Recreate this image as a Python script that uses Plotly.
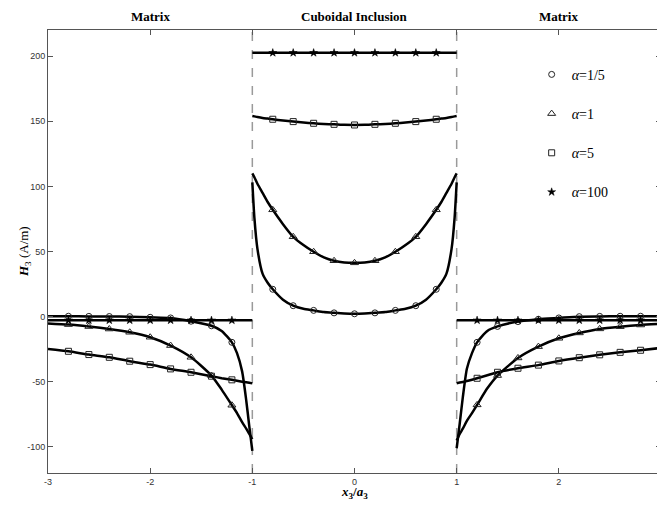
import plotly.graph_objects as go

# ---------------- data ----------------
alphas = ["1/5", "1", "5", "100"]

x_left = [-3.0, -2.8, -2.6, -2.4, -2.2, -2.0, -1.8, -1.6, -1.4, -1.3, -1.2, -1.15, -1.1, -1.06, -1.03, -1.0]
x_incl = [-1.0, -0.98, -0.95, -0.9, -0.85, -0.8, -0.7, -0.6, -0.5, -0.4, -0.3, -0.2, -0.1, 0.0,
          0.1, 0.2, 0.3, 0.4, 0.5, 0.6, 0.7, 0.8, 0.85, 0.9, 0.95, 0.98, 1.0]
x_right = [1.0, 1.03, 1.06, 1.1, 1.15, 1.2, 1.3, 1.4, 1.6, 1.8, 2.0, 2.2, 2.4, 2.6, 2.8, 3.0]

# alpha = 1/5
h_left_a1 = [0.3, 0.3, 0.2, 0.1, 0.0, -0.5, -1.0, -3.5, -7.0, -11.0, -19.7, -28.0, -42.0, -64.0, -84.0, -103.0]
h_incl_a1 = [103, 76, 52, 33, 26, 21, 13, 8.4, 6.0, 4.8, 3.5, 2.9, 2.4, 2.2,
             2.4, 2.9, 3.5, 4.8, 6.0, 8.4, 13, 21, 26, 33, 52, 76, 103]
h_right_a1 = [-101.0, -82.0, -62.0, -40.0, -28.0, -19.7, -11.0, -7.5, -3.8, -2.0, -1.0, 0.0, 0.2, 0.3, 0.3, 0.3]

# alpha = 1
h_left_a2 = [-5.2, -6.1, -7.6, -9.5, -12.0, -15.8, -22.2, -31.2, -45.2, -56.0, -68.0, -74.0, -81.0, -86.0, -90.0, -94.0]
h_incl_a2 = [110, 107, 102, 95, 88, 82, 71, 61.3, 55, 49.8, 45.5, 42.9, 41.6, 41.3,
             41.6, 42.9, 45.5, 49.8, 55, 61.3, 71, 82, 88, 95, 102, 107, 110]
h_right_a2 = [-95.0, -90.0, -86.0, -80.0, -74.0, -67.7, -55.0, -45.2, -31.7, -23.0, -16.6, -12.5, -9.4, -7.7, -6.4, -5.5]

# alpha = 5
h_left_a3 = [-24.8, -26.6, -29.1, -31.2, -34.2, -36.8, -40.1, -42.7, -45.7, -47.2, -48.5, -49.2, -49.9, -50.4, -50.8, -51.2]
h_incl_a3 = [154, 153.7, 153.2, 152.5, 152, 151.5, 150.5, 149.7, 149, 148.4, 147.9, 147.6, 147.2, 147.1,
             147.2, 147.6, 147.9, 148.4, 149, 149.7, 150.5, 151.5, 152, 152.5, 153.2, 153.7, 154]
h_right_a3 = [-51.1, -50.6, -50.1, -49.4, -48.4, -47.3, -45.0, -42.7, -39.6, -37.2, -34.0, -31.5, -29.3, -27.4, -25.8, -24.0]

# alpha = 100
h_left_a4 = [-2.8] * 16
h_incl_a4 = [202.5] * 27
h_right_a4 = [-2.8] * 16

marker_x = [-2.8, -2.6, -2.4, -2.2, -2.0, -1.8, -1.6, -1.4, -1.2,
            -0.8, -0.6, -0.4, -0.2, 0.0, 0.2, 0.4, 0.6, 0.8,
            1.2, 1.4, 1.6, 1.8, 2.0, 2.2, 2.4, 2.6, 2.8]

region_names = ["Matrix", "Cuboidal Inclusion", "Matrix"]
region_centers = [-2, 0, 2]
boundaries = [-1, 1]

x_ticks = [-3, -2, -1, 0, 1, 2, 3]
x_ticktext = ["-3", "-2", "-1", "0", "1", "2", "3"]
y_ticks = [-100, -50, 0, 50, 100, 150, 200]
y_ticktext = ["-100", "-50", "0", "50", "100", "150", "200"]

# ---------------- styles ----------------
series = [
    (h_left_a1, h_incl_a1, h_right_a1, "circle-open", 6),
    (h_left_a2, h_incl_a2, h_right_a2, "triangle-up-open", 7),
    (h_left_a3, h_incl_a3, h_right_a3, "square-open", 6),
    (h_left_a4, h_incl_a4, h_right_a4, "star", 6),
]

fig = go.Figure()

for b in boundaries:
    fig.add_shape(type="line", x0=b, x1=b, y0=0, y1=1, xref="x", yref="paper",
                  line=dict(color="#9a9a9a", width=1.5, dash="dash"), layer="below")

for i, (hl, hi, hr, sym, sz) in enumerate(series):
    for xs, hs in ((x_left, hl), (x_incl, hi), (x_right, hr)):
        fig.add_trace(go.Scatter(x=xs, y=hs, mode="lines", showlegend=False,
                                 line=dict(color="black", width=2.5, shape="spline", smoothing=0.6),
                                 hoverinfo="skip"))
    lookup = {}
    for xs, hs in ((x_left, hl), (x_incl, hi), (x_right, hr)):
        for a, b in zip(xs, hs):
            lookup.setdefault(round(a, 2), b)
    mx = marker_x
    my = [lookup[round(v, 2)] for v in mx]
    if sym == "star":
        mk = dict(symbol=sym, size=sz, color="black", line=dict(color="black", width=0.5))
    else:
        mk = dict(symbol=sym, size=sz, color="#222", line=dict(color="#222", width=1))
    fig.add_trace(go.Scatter(x=mx, y=my, mode="markers", marker=mk,
                             name="<i>α</i>=" + alphas[i], legendgroup="g%d" % i))

for name, c in zip(region_names, region_centers):
    fig.add_annotation(x=c, y=1, xref="x", yref="paper", yshift=14, yanchor="middle",
                       text="<b>%s</b>" % name, showarrow=False,
                       font=dict(family="Liberation Serif", size=13, color="black"))

fig.add_annotation(x=0, y=0.5, xref="paper", yref="paper", xshift=-34, textangle=-90,
                   text="<b><i>H</i></b><sub>3</sub> (A/m)", showarrow=False,
                   font=dict(family="Liberation Serif", size=13, color="black"))
fig.add_annotation(x=0.5, y=0, xref="paper", yref="paper", yshift=-19, yanchor="middle",
                   text="<b><i>x</i><sub>3</sub>/<i>a</i><sub>3</sub></b>", showarrow=False,
                   font=dict(family="Liberation Serif", size=13, color="black"))

axis_common = dict(showline=True, linecolor="#555", linewidth=1, mirror="ticks",
                   ticks="inside", ticklen=5, tickcolor="#555", showgrid=False, zeroline=False,
                   tickfont=dict(family="Liberation Sans", size=9, color="#333"))

# the page adds an 8px body margin, so the figure is sized to fit the 665x508 window
fig.update_layout(
    width=657, height=500,
    margin=dict(l=40, r=1, t=22, b=35),
    plot_bgcolor="white", paper_bgcolor="white",
    xaxis=dict(range=[-3, 3], tickvals=x_ticks, ticktext=x_ticktext,
               ticklabeloverflow="allow", **axis_common),
    yaxis=dict(range=[-120, 220], tickvals=y_ticks, ticktext=y_ticktext, **axis_common),
    legend=dict(x=0.789, y=0.935, xanchor="left", yanchor="top", bgcolor="rgba(0,0,0,0)",
                tracegroupgap=18, font=dict(family="Liberation Serif", size=14, color="black")),
    showlegend=True,
)

fig.write_html("out.html")
